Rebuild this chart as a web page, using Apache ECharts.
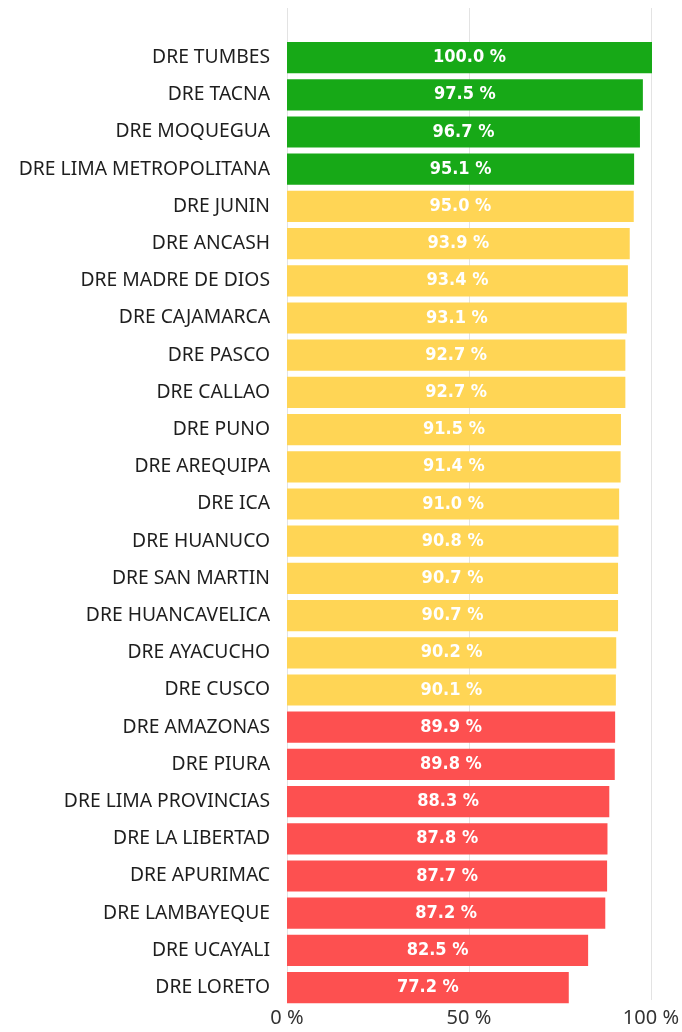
<!DOCTYPE html>
<html>
<head>
<meta charset="utf-8">
<script src="https://cdn.jsdelivr.net/npm/echarts@6/dist/echarts.min.js"></script>
<style>
  html, body { margin: 0; padding: 0; background: #fff; }
  #chart { width: 682px; height: 1032px; }
</style>
</head>
<body>
<div id="chart"></div>
<script>
// datos por DRE
const categorias = [
  'DRE TUMBES', 'DRE TACNA', 'DRE MOQUEGUA', 'DRE LIMA METROPOLITANA', 'DRE JUNIN',
  'DRE ANCASH', 'DRE MADRE DE DIOS', 'DRE CAJAMARCA', 'DRE PASCO', 'DRE CALLAO',
  'DRE PUNO', 'DRE AREQUIPA', 'DRE ICA', 'DRE HUANUCO', 'DRE SAN MARTIN',
  'DRE HUANCAVELICA', 'DRE AYACUCHO', 'DRE CUSCO', 'DRE AMAZONAS', 'DRE PIURA',
  'DRE LIMA PROVINCIAS', 'DRE LA LIBERTAD', 'DRE APURIMAC', 'DRE LAMBAYEQUE',
  'DRE UCAYALI', 'DRE LORETO'
];
const valores = [
  100.0, 97.5, 96.7, 95.1, 95.0,
  93.9, 93.4, 93.1, 92.7, 92.7,
  91.5, 91.4, 91.0, 90.8, 90.7,
  90.7, 90.2, 90.1, 89.9, 89.8,
  88.3, 87.8, 87.7, 87.2,
  82.5, 77.2
];
const ticksX = [0, 50, 100];

function colorDe(v) {
  if (v > 95.05) return '#17a917';   // verde
  if (v >= 90) return '#ffd555';     // amarillo
  return '#fd5050';                  // rojo
}

const chart = echarts.init(document.getElementById('chart'));

const option = {
  animation: false,
  grid: [
    { left: 287, right: 30, top: 8, bottom: 32 },      // lineas guia
    { left: 287, right: 30, top: 39, height: 967.2 }   // barras
  ],
  xAxis: [
    {
      gridIndex: 0, type: 'value', min: 0, max: 100, interval: 50,
      axisLine: { show: false }, axisTick: { show: false },
      splitLine: { lineStyle: { color: '#e3e3e3', width: 1 } },
      axisLabel: {
        formatter: v => ticksX.includes(v) ? v + ' %' : '',
        color: '#333', fontSize: 20, fontFamily: 'Noto Sans', margin: 8
      }
    },
    {
      gridIndex: 1, type: 'value', min: 0, max: 100, show: false
    }
  ],
  yAxis: [
    {
      gridIndex: 0, type: 'category', data: [''], show: false
    },
    {
      gridIndex: 1, type: 'category', data: categorias, inverse: true,
      axisLine: { show: false }, axisTick: { show: false },
      axisLabel: { color: '#1e1e1e', fontSize: 19.3, fontFamily: 'Noto Sans', margin: 17 }
    }
  ],
  series: [
    {
      type: 'bar',
      xAxisIndex: 1, yAxisIndex: 1,
      barCategoryGap: '16%',
      data: valores.map(v => ({ value: v, itemStyle: { color: colorDe(v) } })),
      label: {
        show: true,
        position: 'inside',
        formatter: p => p.value.toFixed(1) + ' %',
        color: '#fff',
        fontSize: 18,
        fontWeight: 'bold',
        fontFamily: 'DejaVu Sans Condensed'
      }
    }
  ]
};

chart.setOption(option);
</script>
</body>
</html>
